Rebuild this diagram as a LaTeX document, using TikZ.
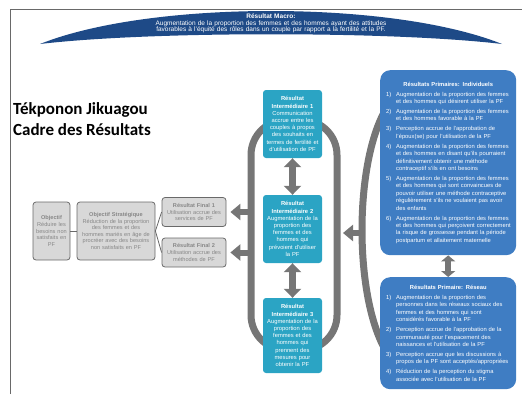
\documentclass[tikz,border=0pt]{standalone}
\usepackage{fontspec}
\setmainfont{Liberation Sans}
\newfontfamily\titlefont{Carlito}
\usetikzlibrary{arrows.meta}
\definecolor{macroblue}{RGB}{30,74,135}
\definecolor{irteal}{RGB}{43,164,196}
\definecolor{primblue}{RGB}{63,125,195}
\definecolor{bandgray}{RGB}{118,118,118}
\definecolor{boxgray}{RGB}{216,216,216}
\definecolor{edgegray}{RGB}{105,105,105}
\definecolor{txtgray}{RGB}{135,135,135}
\newcommand{\pitem}[2]{\par\vspace{2.6pt}\hangindent=13pt\hangafter=1\noindent\makebox[13pt][l]{\hspace{3pt}#1)}#2}
\begin{document}
\hyphenpenalty=10000
\exhyphenpenalty=10000
\begin{tikzpicture}
  [x=1pt,y=-1pt,
   gbox/.style={draw=edgegray,fill=boxgray,rounded corners=3pt,line width=0.8pt,text=txtgray,
     font=\fontsize{5.6}{6.6}\selectfont,align=center,inner sep=1pt},
   ibox/.style={fill=irteal,rounded corners=3pt,text=white,font=\fontsize{5.8}{7.2}\selectfont,
     align=center,text width=57pt,inner sep=1pt},
   pbox/.style={fill=primblue,rounded corners=10pt,text=white,font=\fontsize{5.8}{7.4}\selectfont,
     align=left,text width=130pt,inner xsep=3pt,inner ysep=0pt,anchor=north west},
   band/.style={draw=bandgray,line width=7pt},
   dbl/.style={bandgray,line width=7pt,{Triangle[length=9pt,width=17pt]}-{Triangle[length=9pt,width=17pt]}},
   dbls/.style={bandgray,line width=6pt,{Triangle[length=6pt,width=14pt]}-{Triangle[length=6pt,width=14pt]}},
   larr/.style={bandgray,line width=6pt,-{Triangle[length=10pt,width=16pt]}}]
\useasboundingbox (0,0) rectangle (522,394);
\draw[edgegray,line width=1pt] (10,394) -- (10,9) -- (522,9);
% macro arch
\fill[macroblue] (40,44) .. controls (150,0) and (392,0) .. (502,44)
  .. controls (392,31) and (150,31) .. (40,44) -- cycle;
\node (macro) [text=white,font=\fontsize{6.5}{6.6}\selectfont,align=center,text width=400pt,inner sep=0pt] at (271,23.5)
  {\textbf{Résultat Macro:}\\Augmentation de la proportion des femmes et des hommes ayant des attitudes\\
   favorables à l'équité des rôles dans un couple par rapport a la fertilité et la PF.};
\node (title) [anchor=north west,font=\titlefont\bfseries\fontsize{17}{21}\selectfont,align=left,inner sep=0pt] at (13,102)
  {Tékponon Jikuagou\\Cadre des Résultats};
% left column
\node (obj) [gbox,minimum height=58pt,text width=35pt] at (51.5,231)
  {\textbf{Objectif}\\Réduire les\\besoins non\\satisfaits en\\PF};
\node (strat) [gbox,minimum height=58pt,text width=76pt] at (116,231)
  {\textbf{Objectif Stratégique}\\Réduction de la proportion\\des femmes et des\\hommes mariés en âge de\\procréer avec des besoins\\non satisfaits en PF};
\node (rf1) [gbox,minimum height=29pt,text width=62pt] at (194,212)
  {\textbf{Résultat Final 1}\\Utilisation accrue des\\services de PF};
\node (rf2) [gbox,minimum height=29pt,text width=62pt] at (194,252.5)
  {\textbf{Résultat Final 2}\\Utilisation accrue des\\méthodes de PF};
\draw[edgegray,line width=0.8pt] (obj) -- (strat);
\foreach \to in {rf1,rf2}
  \draw[edgegray,line width=0.8pt] (strat.east) -- (\to.west);
% loops
\draw[band,rounded corners=35pt] (251,120) rectangle (337,350);
\draw[band] (392,100) .. controls (352,150) and (352,310) .. (392,360);
\coordinate (lo1) at (251,212);
\coordinate (lo2) at (251,252.5);
\coordinate (ro) at (362,233);
\coordinate (oe) at (337,233);
\draw[larr,shorten >=4pt] (lo1) -- (rf1);
\draw[larr,shorten >=4pt] (lo2) -- (rf2);
\draw[larr,shorten >=6pt] (ro) -- (oe);
% intermediate results
\node (ir1) [ibox,minimum height=68pt] at (292.5,124)
  {\textbf{Résultat\\Intermédiaire 1}\\Communication\\accrue entre les\\couples à propos\\des souhaits en\\termes de fertilité et\\d'utilisation de PF};
\node (ir2) [ibox,minimum height=68pt] at (292.5,229)
  {\textbf{Résultat\\Intermédiaire 2}\\Augmentation de la\\proportion des\\femmes et des\\hommes qui\\prévoient d'utiliser\\la PF};
\node (ir3) [ibox,minimum height=75pt] at (292.5,335.5)
  {\textbf{Résultat\\Intermédiaire 3}\\Augmentation de la\\proportion des\\femmes et des\\hommes qui\\prennent des\\mesures pour\\obtenir la PF};
\draw[dbl] (ir1) -- (ir2);
\draw[dbl] (ir2) -- (ir3);
% primary results
\node (indiv) [pbox,minimum height=185pt] at (380,70)
  {{\centering\textbf{Résultats Primaires: Individuels}\par}
   \pitem{1}{Augmentation de la proportion des femmes\newline et des hommes qui désirent utiliser la PF}
   \pitem{2}{Augmentation de la proportion des femmes\newline et des hommes favorable à la PF}
   \pitem{3}{Perception accrue de l'approbation de\newline l'époux(se) pour l'utilisation de la PF}
   \pitem{4}{Augmentation de la proportion des femmes\newline et des hommes en disant qu'ils pourraient\newline définitivement obtenir une méthode\newline contraceptif s'ils en ont besoins}
   \pitem{5}{Augmentation de la proportion des femmes\newline et des hommes qui sont convaincues de\newline pouvoir utiliser une méthode contraceptive\newline régulièrement s'ils ne voulaient pas avoir\newline des enfants}
   \pitem{6}{Augmentation de la proportion des femmes\newline et des hommes qui perçoivent correctement\newline la risque de grossesse pendant la période\newline postpartum et allaitement maternelle}\par};
\node (reseau) [pbox,minimum height=112pt] at (380,277)
  {{\centering\textbf{Résultats Primaire: Réseau}\par}
   \pitem{1}{Augmentation de la proportion des\newline personnes dans les réseaux sociaux des\newline femmes et des hommes qui sont\newline considérés favorable à la PF}
   \pitem{2}{Perception accrue de l'approbation de la\newline communauté pour l'espacement des\newline naissances et l'utilisation de la PF}
   \pitem{3}{Perception accrue que les discussions à\newline propos de la PF sont acceptés/appropriées}
   \pitem{4}{Réduction de la perception du stigma\newline associée avec l'utilisation de la PF}\par};
\draw[dbls] (indiv) -- (reseau);
\end{tikzpicture}
\end{document}
